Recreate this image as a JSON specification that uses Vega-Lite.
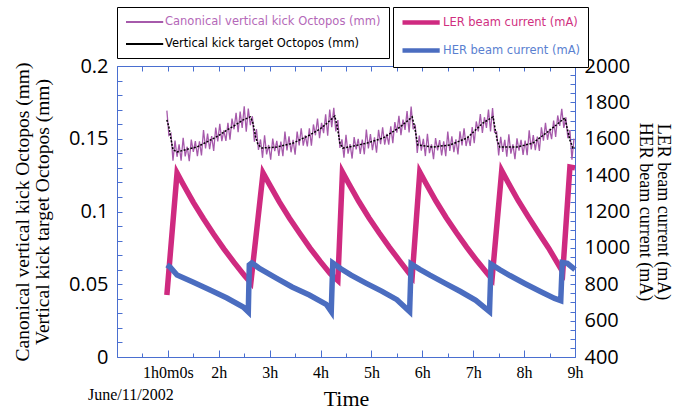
{
  "$schema": "https://vega.github.io/schema/vega-lite/v6.json",
  "width": 458,
  "height": 291,
  "autosize": {"type": "none"},
  "padding": {"left": 117, "top": 66, "right": 108, "bottom": 54},
  "background": "white",
  "config": {
    "view": {"stroke": null},
    "axis": {
      "grid": false,
      "domainColor": "#4a6fd0",
      "tickColor": "#4a6fd0",
      "domainWidth": 1,
      "tickWidth": 1,
      "tickCount": 100,
      "labelOverlap": false,
      "labelFlush": false,
      "labelColor": "black",
      "titleColor": "black",
      "titleFontWeight": "normal"
    },
    "legend": {
      "orient": "none",
      "title": null,
      "symbolType": "M-1,0H5.2",
      "symbolSize": 144,
      "labelFont": "DejaVu Sans",
      "labelFontSize": 11.5,
      "labelLimit": 0,
      "labelOffset": 26,
      "padding": 8,
      "rowPadding": 9,
      "fillColor": "white",
      "strokeColor": "black"
    }
  },
  "title": {
    "text": "June/11/2002",
    "orient": "bottom",
    "anchor": "start",
    "frame": "group",
    "font": "Liberation Serif",
    "fontSize": 16,
    "fontWeight": "normal",
    "color": "black",
    "offset": -22,
    "dx": -29
  },
  "datasets": {
    "kick": [
      {"t":0.98,"v":0.1693},{"t":1.02,"v":0.1523},{"t":1.06,"v":0.1537},{"t":1.10,"v":0.1349},{"t":1.14,"v":0.1487},
      {"t":1.18,"v":0.1376},{"t":1.22,"v":0.1462},{"t":1.26,"v":0.1350},{"t":1.30,"v":0.1507},{"t":1.34,"v":0.1379},
      {"t":1.38,"v":0.1445},{"t":1.42,"v":0.1346},{"t":1.46,"v":0.1494},{"t":1.50,"v":0.1410},{"t":1.54,"v":0.1484},
      {"t":1.58,"v":0.1381},{"t":1.62,"v":0.1483},{"t":1.66,"v":0.1386},{"t":1.70,"v":0.1560},{"t":1.74,"v":0.1434},
      {"t":1.78,"v":0.1535},{"t":1.82,"v":0.1428},{"t":1.86,"v":0.1518},{"t":1.90,"v":0.1416},{"t":1.94,"v":0.1577},
      {"t":1.98,"v":0.1481},{"t":2.02,"v":0.1602},{"t":2.06,"v":0.1484},{"t":2.10,"v":0.1558},{"t":2.14,"v":0.1485},
      {"t":2.18,"v":0.1610},{"t":2.22,"v":0.1494},{"t":2.26,"v":0.1639},{"t":2.30,"v":0.1565},{"t":2.34,"v":0.1679},
      {"t":2.38,"v":0.1545},{"t":2.42,"v":0.1686},{"t":2.46,"v":0.1575},{"t":2.50,"v":0.1723},{"t":2.54,"v":0.1548},
      {"t":2.58,"v":0.1707},{"t":2.62,"v":0.1593},{"t":2.66,"v":0.1655},{"t":2.70,"v":0.1480},{"t":2.74,"v":0.1566},
      {"t":2.78,"v":0.1423},{"t":2.82,"v":0.1495},{"t":2.86,"v":0.1369},{"t":2.90,"v":0.1524},{"t":2.94,"v":0.1393},
      {"t":2.98,"v":0.1457},{"t":3.02,"v":0.1356},{"t":3.06,"v":0.1501},{"t":3.10,"v":0.1415},{"t":3.14,"v":0.1486},
      {"t":3.18,"v":0.1382},{"t":3.22,"v":0.1481},{"t":3.26,"v":0.1380},{"t":3.30,"v":0.1550},{"t":3.34,"v":0.1420},
      {"t":3.38,"v":0.1517},{"t":3.42,"v":0.1407},{"t":3.46,"v":0.1492},{"t":3.50,"v":0.1390},{"t":3.54,"v":0.1550},
      {"t":3.58,"v":0.1454},{"t":3.62,"v":0.1572},{"t":3.66,"v":0.1452},{"t":3.70,"v":0.1523},{"t":3.74,"v":0.1448},
      {"t":3.78,"v":0.1571},{"t":3.82,"v":0.1453},{"t":3.86,"v":0.1598},{"t":3.90,"v":0.1524},{"t":3.94,"v":0.1639},
      {"t":3.98,"v":0.1504},{"t":4.02,"v":0.1609},{"t":4.06,"v":0.1538},{"t":4.10,"v":0.1668},{"t":4.14,"v":0.1521},
      {"t":4.18,"v":0.1701},{"t":4.22,"v":0.1580},{"t":4.26,"v":0.1712},{"t":4.30,"v":0.1551},{"t":4.34,"v":0.1628},
      {"t":4.38,"v":0.1437},{"t":4.42,"v":0.1496},{"t":4.46,"v":0.1370},{"t":4.50,"v":0.1527},{"t":4.54,"v":0.1397},
      {"t":4.58,"v":0.1463},{"t":4.62,"v":0.1364},{"t":4.66,"v":0.1511},{"t":4.70,"v":0.1427},{"t":4.74,"v":0.1500},
      {"t":4.78,"v":0.1396},{"t":4.82,"v":0.1494},{"t":4.86,"v":0.1393},{"t":4.90,"v":0.1563},{"t":4.94,"v":0.1433},
      {"t":4.98,"v":0.1532},{"t":5.02,"v":0.1422},{"t":5.06,"v":0.1509},{"t":5.10,"v":0.1404},{"t":5.14,"v":0.1562},
      {"t":5.18,"v":0.1463},{"t":5.22,"v":0.1579},{"t":5.26,"v":0.1460},{"t":5.30,"v":0.1533},{"t":5.34,"v":0.1460},
      {"t":5.38,"v":0.1585},{"t":5.42,"v":0.1470},{"t":5.46,"v":0.1615},{"t":5.50,"v":0.1542},{"t":5.54,"v":0.1657},
      {"t":5.58,"v":0.1525},{"t":5.62,"v":0.1632},{"t":5.66,"v":0.1561},{"t":5.70,"v":0.1690},{"t":5.74,"v":0.1543},
      {"t":5.78,"v":0.1721},{"t":5.82,"v":0.1565},{"t":5.86,"v":0.1597},{"t":5.90,"v":0.1402},{"t":5.94,"v":0.1522},
      {"t":5.98,"v":0.1418},{"t":6.02,"v":0.1499},{"t":6.06,"v":0.1381},{"t":6.10,"v":0.1534},{"t":6.14,"v":0.1401},
      {"t":6.18,"v":0.1462},{"t":6.22,"v":0.1359},{"t":6.26,"v":0.1505},{"t":6.30,"v":0.1420},{"t":6.34,"v":0.1491},
      {"t":6.38,"v":0.1386},{"t":6.42,"v":0.1483},{"t":6.46,"v":0.1380},{"t":6.50,"v":0.1549},{"t":6.54,"v":0.1417},
      {"t":6.58,"v":0.1517},{"t":6.62,"v":0.1408},{"t":6.66,"v":0.1496},{"t":6.70,"v":0.1393},{"t":6.74,"v":0.1551},
      {"t":6.78,"v":0.1454},{"t":6.82,"v":0.1571},{"t":6.86,"v":0.1450},{"t":6.90,"v":0.1520},{"t":6.94,"v":0.1451},
      {"t":6.98,"v":0.1581},{"t":7.02,"v":0.1470},{"t":7.06,"v":0.1619},{"t":7.10,"v":0.1551},{"t":7.14,"v":0.1670},
      {"t":7.18,"v":0.1540},{"t":7.22,"v":0.1648},{"t":7.26,"v":0.1574},{"t":7.30,"v":0.1700},{"t":7.34,"v":0.1550},
      {"t":7.38,"v":0.1711},{"t":7.42,"v":0.1543},{"t":7.46,"v":0.1547},{"t":7.50,"v":0.1386},{"t":7.54,"v":0.1513},
      {"t":7.58,"v":0.1410},{"t":7.62,"v":0.1492},{"t":7.66,"v":0.1376},{"t":7.70,"v":0.1530},{"t":7.74,"v":0.1398},
      {"t":7.78,"v":0.1461},{"t":7.82,"v":0.1359},{"t":7.86,"v":0.1503},{"t":7.90,"v":0.1419},{"t":7.94,"v":0.1493},
      {"t":7.98,"v":0.1389},{"t":8.02,"v":0.1488},{"t":8.06,"v":0.1387},{"t":8.10,"v":0.1558},{"t":8.14,"v":0.1427},
      {"t":8.18,"v":0.1525},{"t":8.22,"v":0.1421},{"t":8.26,"v":0.1514},{"t":8.30,"v":0.1416},{"t":8.34,"v":0.1579},
      {"t":8.38,"v":0.1487},{"t":8.42,"v":0.1609},{"t":8.46,"v":0.1493},{"t":8.50,"v":0.1568},{"t":8.54,"v":0.1497},
      {"t":8.58,"v":0.1625},{"t":8.62,"v":0.1512},{"t":8.66,"v":0.1660},{"t":8.70,"v":0.1589},{"t":8.74,"v":0.1706},
      {"t":8.78,"v":0.1575},{"t":8.82,"v":0.1647},{"t":8.86,"v":0.1504},{"t":8.90,"v":0.1559},{"t":8.94,"v":0.1356},
      {"t":8.98,"v":0.1501}
    ],
    "target": [
      {"t":0.98,"v":0.1630},{"t":1.02,"v":0.1580},{"t":1.06,"v":0.1500},{"t":1.10,"v":0.1425},{"t":1.18,"v":0.1409},
      {"t":1.35,"v":0.1425},{"t":1.57,"v":0.1443},{"t":1.83,"v":0.1490},{"t":2.00,"v":0.1522},{"t":2.16,"v":0.1560},
      {"t":2.33,"v":0.1595},{"t":2.48,"v":0.1630},{"t":2.62,"v":0.1650},{"t":2.67,"v":0.1610},{"t":2.72,"v":0.1520},
      {"t":2.77,"v":0.1460},{"t":2.85,"v":0.1436},{"t":3.14,"v":0.1443},{"t":3.46,"v":0.1470},{"t":3.79,"v":0.1526},
      {"t":4.00,"v":0.1570},{"t":4.13,"v":0.1608},{"t":4.28,"v":0.1656},{"t":4.33,"v":0.1580},{"t":4.38,"v":0.1470},
      {"t":4.44,"v":0.1436},{"t":4.58,"v":0.1445},{"t":4.91,"v":0.1470},{"t":5.23,"v":0.1505},{"t":5.56,"v":0.1580},
      {"t":5.80,"v":0.1650},{"t":5.85,"v":0.1580},{"t":5.91,"v":0.1457},{"t":6.21,"v":0.1443},{"t":6.54,"v":0.1457},
      {"t":6.88,"v":0.1505},{"t":7.19,"v":0.1608},{"t":7.39,"v":0.1650},{"t":7.47,"v":0.1490},{"t":7.52,"v":0.1443},
      {"t":7.86,"v":0.1443},{"t":8.17,"v":0.1470},{"t":8.51,"v":0.1560},{"t":8.80,"v":0.1643},{"t":8.90,"v":0.1490},
      {"t":8.96,"v":0.1436},{"t":9.00,"v":0.1440}
    ],
    "ler": [
      {"t":0.98,"v":741},{"t":1.18,"v":1412},{"t":1.30,"v":1350},{"t":1.50,"v":1250},{"t":1.70,"v":1160},
      {"t":1.90,"v":1075},{"t":2.10,"v":995},{"t":2.30,"v":920},{"t":2.50,"v":850},{"t":2.63,"v":808},
      {"t":2.87,"v":1412},{"t":2.99,"v":1352},{"t":3.19,"v":1253},{"t":3.39,"v":1163},{"t":3.59,"v":1080},
      {"t":3.79,"v":1000},{"t":3.99,"v":927},{"t":4.19,"v":858},{"t":4.34,"v":820},{"t":4.43,"v":1417},
      {"t":4.55,"v":1355},{"t":4.75,"v":1256},{"t":4.95,"v":1166},{"t":5.15,"v":1083},{"t":5.35,"v":1004},
      {"t":5.55,"v":930},{"t":5.72,"v":868},{"t":5.80,"v":840},{"t":5.95,"v":1417},{"t":6.07,"v":1355},
      {"t":6.27,"v":1256},{"t":6.47,"v":1166},{"t":6.67,"v":1083},{"t":6.87,"v":1004},{"t":7.07,"v":930},
      {"t":7.27,"v":862},{"t":7.37,"v":828},{"t":7.56,"v":1425},{"t":7.68,"v":1362},{"t":7.88,"v":1262},
      {"t":8.08,"v":1172},{"t":8.28,"v":1085},{"t":8.48,"v":1000},{"t":8.68,"v":905},{"t":8.76,"v":867},
      {"t":8.90,"v":1445},{"t":9.00,"v":1440}
    ],
    "her": [
      {"t":0.98,"v":906},{"t":1.04,"v":895},{"t":1.18,"v":851},{"t":1.49,"v":812},{"t":1.83,"v":768},
      {"t":2.16,"v":724},{"t":2.48,"v":675},{"t":2.58,"v":648},{"t":2.60,"v":906},{"t":2.65,"v":917},
      {"t":2.79,"v":889},{"t":3.13,"v":834},{"t":3.44,"v":785},{"t":3.78,"v":741},{"t":4.11,"v":690},
      {"t":4.21,"v":650},{"t":4.24,"v":917},{"t":4.40,"v":885},{"t":4.60,"v":850},{"t":4.90,"v":805},
      {"t":5.20,"v":762},{"t":5.50,"v":715},{"t":5.75,"v":650},{"t":5.78,"v":912},{"t":5.95,"v":882},
      {"t":6.15,"v":850},{"t":6.45,"v":805},{"t":6.75,"v":760},{"t":7.05,"v":712},{"t":7.32,"v":650},
      {"t":7.35,"v":910},{"t":7.52,"v":880},{"t":7.72,"v":848},{"t":8.02,"v":803},{"t":8.32,"v":760},
      {"t":8.60,"v":722},{"t":8.72,"v":710},{"t":8.75,"v":920},{"t":8.85,"v":915},{"t":9.00,"v":880}
    ]
  },
  "layer": [
    {
      "layer": [
        {
          "data": {"name": "kick"},
          "mark": {"type": "line", "strokeWidth": 1.3},
          "encoding": {
            "x": {
              "field": "t", "type": "quantitative",
              "scale": {"domain": [0, 9], "nice": false, "zero": false},
              "axis": {
                "orient": "bottom",
                "values": [0,1,2,3,4,5,6,7,8,9],
                "tickCount": 100,
                "labelExpr": "datum.value == 1 ? '1h0m0s' : (datum.value >= 2 ? datum.value + 'h' : '')",
                "tickSize": -7,
                "labelPadding": 14,
                "labelFont": "Liberation Serif",
                "labelFontSize": 16,
                "title": "Time",
                "titleFont": "Liberation Serif",
                "titleFontSize": 22,
                "titlePadding": 8
              }
            },
            "y": {
              "field": "v", "type": "quantitative",
              "scale": {"domain": [0, 0.2], "nice": false},
              "axis": {
                "orient": "left",
                "values": [0, 0.05, 0.1, 0.15, 0.2],
                "tickCount": 100,
                "format": ".2~f",
                "tickSize": -5,
                "labelPadding": 14,
                "labelFont": "Open Sans",
                "labelFontSize": 20,
                "title": ["Canonical vertical kick Octopos (mm)", "Vertical kick target Octopos (mm)"],
                "titleFont": "Liberation Serif",
                "titleFontSize": 19.5,
                "titleLineHeight": 20,
                "titlePadding": 16
              }
            },
            "color": {
              "datum": "Canonical vertical kick Octopos (mm)",
              "scale": {
                "domain": ["Canonical vertical kick Octopos (mm)", "Vertical kick target Octopos (mm)"],
                "range": ["#a65aab", "#000000"]
              },
              "legend": {
                "orient": "none",
                "legendX": 0,
                "legendY": -59,
                "symbolStrokeWidth": 2,
                "encode": {
                  "labels": {"update": {"fill": {"signal": "datum.value === 'Vertical kick target Octopos (mm)' ? '#000000' : '#b468b8'"}}}
                }
              }
            }
          }
        },
        {
          "data": {"name": "target"},
          "mark": {"type": "line", "strokeWidth": 1.5, "strokeDash": [2, 1.5]},
          "encoding": {
            "x": {"field": "t", "type": "quantitative"},
            "y": {"field": "v", "type": "quantitative"},
            "color": {"datum": "Vertical kick target Octopos (mm)"}
          }
        }
      ]
    },
    {
      "layer": [
        {
          "data": {"name": "ler"},
          "mark": {"type": "line", "strokeWidth": 5.5},
          "encoding": {
            "x": {
              "field": "t", "type": "quantitative",
              "axis": {
                "orient": "top",
                "values": [0,0.5,1,1.5,2,2.5,3,3.5,4,4.5,5,5.5,6,6.5,7,7.5,8,8.5,9],
                "tickCount": 100,
                "labels": false,
                "tickSize": -5,
                "title": null
              }
            },
            "y": {
              "field": "v", "type": "quantitative",
              "scale": {"domain": [400, 2000], "nice": false, "zero": false},
              "axis": {
                "orient": "right",
                "values": [400,600,800,1000,1200,1400,1600,1800,2000],
                "tickCount": 100,
                "format": "d",
                "tickSize": -5,
                "labelPadding": 14,
                "labelFont": "Open Sans",
                "labelFontSize": 20,
                "title": ["LER beam current (mA)", "HER beam current (mA)"],
                "titleFont": "Liberation Serif",
                "titleFontSize": 18,
                "titleLineHeight": 18,
                "titleAngle": 90,
                "titlePadding": 6
              }
            },
            "stroke": {
              "datum": "LER beam current (mA)",
              "scale": {
                "domain": ["LER beam current (mA)", "HER beam current (mA)"],
                "range": ["#cf2a80", "#4b6dc0"]
              },
              "legend": {
                "orient": "none",
                "legendX": 276,
                "legendY": -59,
                "padding": 7,
                "symbolStrokeWidth": 4.5,
                "encode": {
                  "labels": {"update": {"fill": {"signal": "datum.value === 'LER beam current (mA)' ? '#d0307f' : '#5a7fd0'"}}}
                }
              }
            }
          }
        },
        {
          "data": {"name": "her"},
          "mark": {"type": "line", "strokeWidth": 5.5},
          "encoding": {
            "x": {"field": "t", "type": "quantitative"},
            "y": {"field": "v", "type": "quantitative"},
            "stroke": {"datum": "HER beam current (mA)"}
          }
        }
      ]
    },
    {
      "data": {"name": "target"},
      "mark": {"type": "line", "opacity": 0},
      "encoding": {
        "x": {
          "field": "t", "type": "quantitative",
          "axis": {
            "orient": "bottom",
            "values": [0.5,1.5,2.5,3.5,4.5,5.5,6.5,7.5,8.5],
            "tickCount": 100,
            "labels": false,
            "domain": false,
            "tickSize": -4,
            "title": null
          }
        },
        "y": {
          "field": "v", "type": "quantitative",
          "scale": {"domain": [0, 0.2], "nice": false, "zero": false},
          "axis": {
            "orient": "left",
            "values": [0.01,0.02,0.03,0.04,0.06,0.07,0.08,0.09,0.11,0.12,0.13,0.14,0.16,0.17,0.18,0.19],
            "tickCount": 100,
            "labels": false,
            "domain": false,
            "tickSize": -5,
            "title": null
          }
        }
      }
    },
    {
      "data": {"name": "her"},
      "mark": {"type": "line", "opacity": 0},
      "encoding": {
        "x": {"field": "t", "type": "quantitative", "axis": null},
        "y": {
          "field": "v", "type": "quantitative",
          "scale": {"domain": [400, 2000], "nice": false, "zero": false},
          "axis": {
            "orient": "right",
            "values": [450,500,550,650,700,750,850,900,950,1050,1100,1150,1250,1300,1350,1450,1500,1550,1650,1700,1750,1850,1900,1950],
            "tickCount": 100,
            "labels": false,
            "domain": false,
            "tickSize": -5,
            "title": null
          }
        }
      }
    }
  ],
  "resolve": {
    "scale": {"y": "independent"},
    "axis": {"x": "independent", "y": "independent"}
  }
}
